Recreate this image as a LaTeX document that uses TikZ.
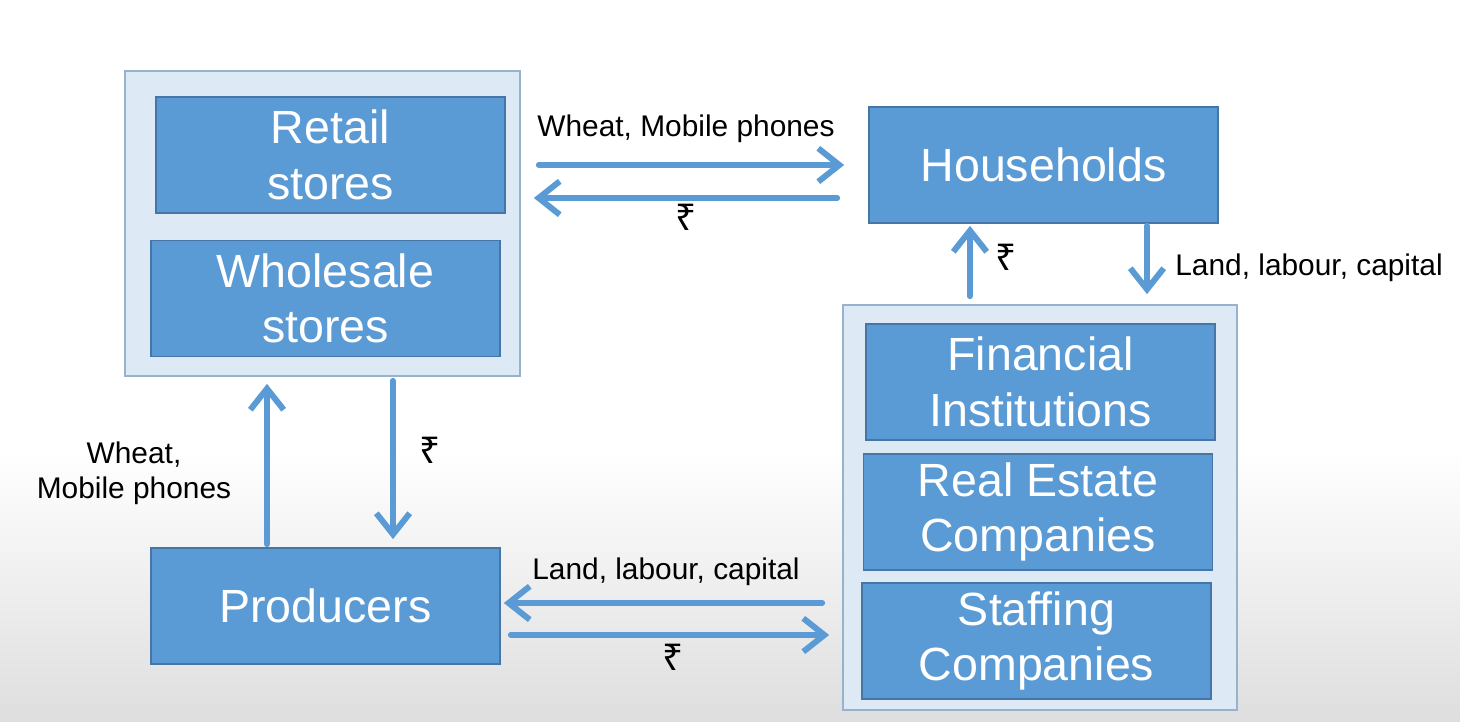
\documentclass[tikz,border=0pt]{standalone}
\usepackage{fontspec}
\setmainfont{Liberation Sans}
\newfontfamily\rupeefont{Noto Sans}
\usetikzlibrary{arrows.meta,calc}
\definecolor{boxblue}{RGB}{91,155,213}
\definecolor{boxline}{RGB}{70,118,165}
\definecolor{panelfill}{RGB}{221,233,245}
\definecolor{panelline}{RGB}{150,178,206}
\definecolor{flowblue}{RGB}{91,155,213}
\definecolor{bggray}{RGB}{222,222,222}
\tikzset{
  unit/.style={draw=boxline, fill=boxblue, line width=1pt, minimum width=6.98cm,
    minimum height=2.32cm, text=white, align=center, inner sep=0pt,
    font=\fontsize{26.5}{31.5}\selectfont},
  panel/.style={draw=panelline, fill=panelfill, line width=1pt, inner sep=0pt},
  flow/.style={draw=flowblue, line width=3.4pt, line cap=round,
    -{Straight Barb[length=12pt,width=19pt]}},
  lbl/.style={font=\fontsize{17}{20}\selectfont, align=center, inner sep=0pt},
  rupee/.style={font=\rupeefont\fontsize{21}{24}\selectfont, inner sep=0pt}
}
\begin{document}
\begin{tikzpicture}[x=0.02cm, y=-0.02cm]
\useasboundingbox (0,0) rectangle (1460,722);
\fill[white] (0,0) rectangle (1460,450);
\shade[top color=white, bottom color=bggray] (0,450) rectangle (1460,722);

\node[panel, minimum width=7.9cm, minimum height=6.1cm] (stores) at (322.5,223.5) {};
\node[unit] (retail) at (330.5,155) {Retail\\stores};
\node[unit] (whole) at (325.5,298.5) {Wholesale\\stores};
\node[unit] (house) at (1043.5,165) {Households};
\node[panel, minimum width=7.88cm, minimum height=8.1cm] (firms) at (1040,507.5) {};
\node[unit] (fin) at (1040.5,382) {Financial\\Institutions};
\node[unit] (estate) at (1038,512) {Real Estate\\Companies};
\node[unit] (staff) at (1036.5,641) {Staffing\\Companies};
\node[unit] (prod) at (325.5,606) {Producers};

\coordinate (backR) at ($(house.west)+(0,33)$);
\coordinate (payUp) at ($(house.south)+(-73.5,0)$);
\coordinate (factDown) at ($(house.south)+(103.5,0)$);
\coordinate (goodsUp) at ($(prod.north)+(-58.5,0)$);
\coordinate (payDown) at ($(prod.north)+(67.5,0)$);
\coordinate (factL) at ($(prod.east)+(0,-3)$);
\coordinate (payR) at ($(prod.east)+(0,29)$);

\draw[flow, shorten <=0.36cm, shorten >=0.48cm] (stores.east |- house.west) -- (house.west);
\draw[flow, shorten <=0.62cm, shorten >=0.26cm] (backR) -- (stores.east |- backR);
\draw[flow, shorten <=0.16cm, shorten >=0.04cm] (firms.north -| payUp) -- (payUp);
\draw[flow, shorten <=0.04cm, shorten >=0.2cm] (factDown) -- (firms.north -| factDown);
\draw[flow, shorten <=0.06cm, shorten >=0.14cm] (goodsUp) -- (stores.south -| goodsUp);
\draw[flow, shorten <=0.08cm, shorten >=0.16cm] (stores.south -| payDown) -- (payDown);
\draw[flow, shorten <=0.4cm, shorten >=0.06cm] (firms.west |- factL) -- (factL);
\draw[flow, shorten <=0.2cm, shorten >=0.26cm] (payR) -- (firms.west |- payR);

\node[lbl] (goodsTop) at (686,129) {Wheat, Mobile phones};
\node[rupee] (payTop) at (686,217) {₹};
\node[rupee] (payHouse) at (1006,257) {₹};
\node[lbl, anchor=west] (factTop) at (1175,268) {Land, labour, capital};
\node[lbl] (goodsLeft) at (134,473) {Wheat,\\Mobile phones};
\node[rupee] (payLeft) at (430,450) {₹};
\node[lbl] (factBot) at (666,572) {Land, labour, capital};
\node[rupee] (payBot) at (673,657) {₹};
\end{tikzpicture}
\end{document}
